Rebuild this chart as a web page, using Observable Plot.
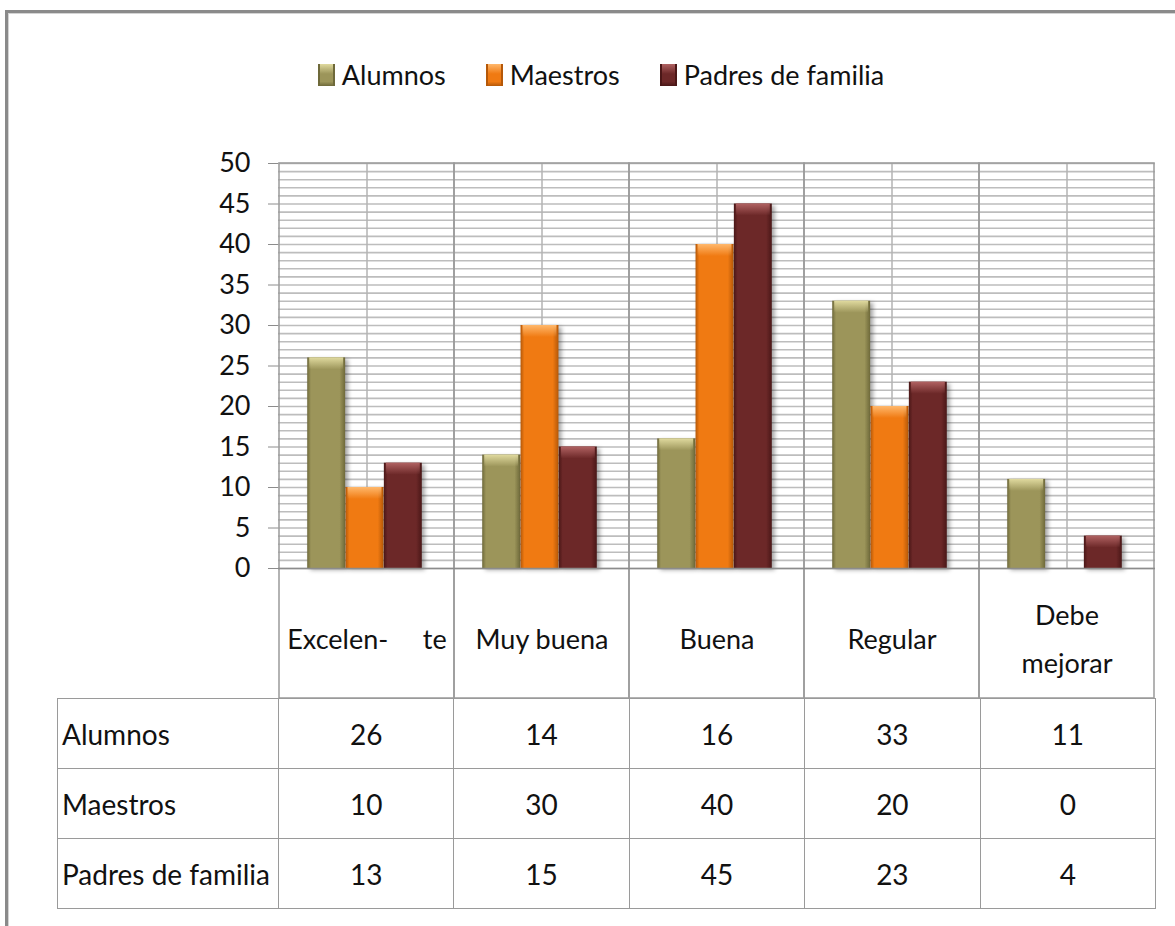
<!DOCTYPE html>
<html><head><meta charset="utf-8">
<script src="https://cdn.jsdelivr.net/npm/d3@7"></script>
<script src="https://cdn.jsdelivr.net/npm/@observablehq/plot@0.6"></script>
<style>
html,body{margin:0;padding:0;background:#fff;}
#page{position:relative;width:1175px;height:926px;overflow:hidden;font-family:Lato,"Open Sans",sans-serif;color:#111;}
#frame{position:absolute;left:5px;top:10px;width:1300px;height:1000px;border-left:3px solid #8a8a8a;border-top:3px solid #8a8a8a;box-shadow:inset 1px 1px 0 #d4d4d4;}
#legend{position:absolute;top:57px;left:0;width:1202px;display:flex;justify-content:center;gap:40px;font-size:27px;line-height:36px;}
.item{display:flex;align-items:center;gap:7px;}
.sw{width:17px;height:22px;box-sizing:border-box;}
#chart{position:absolute;left:0;top:150px;}
#chart g[fill^="url(#side"]{filter:drop-shadow(3px 2px 2px rgba(0,0,0,0.35));}
table{position:absolute;left:57px;top:698px;border-collapse:collapse;table-layout:fixed;width:1099px;font-size:28px;}
td{border:1.5px solid #9a9a9a;height:69px;padding:0;}
td.lab{text-align:left;padding-left:4px;}
td.num{text-align:center;}
</style></head>
<body><div id="page"><div id="frame"></div><div id="legend"></div><div id="chart"></div></div>
<script>
const categories = ["Excelente", "Muy buena", "Buena", "Regular", "Debe mejorar"];
const categoryLabels = ["Excelen-\u00a0\u00a0\u00a0\u00a0\u00a0te", "Muy buena", "Buena", "Regular", "Debe\nmejorar"];
const series = ["Alumnos", "Maestros", "Padres de familia"];
const alumnos = [26, 14, 16, 33, 11];
const maestros = [10, 30, 40, 20, 0];
const padres = [13, 15, 45, 23, 4];
const yTicks = [0, 5, 10, 15, 20, 25, 30, 35, 40, 45, 50];
const baseColors = ["#9c955a", "#f07a12", "#6c2828"];
const darkColors = ["#6e693a", "#b55808", "#4a1717"];
const lightColors = ["#e0da9f", "#ffb86c", "#b06262"];
const values = [alumnos, maestros, padres];

// gradient definitions
const defs = d3.select("body").append("svg").attr("width", 0).attr("height", 0)
  .style("position", "absolute").append("defs");
series.forEach((s, k) => {
  const g = defs.append("linearGradient").attr("id", "side" + k).attr("x1", 0).attr("x2", 1).attr("y1", 0).attr("y2", 0);
  [[0, darkColors[k]], [0.1, baseColors[k]], [0.85, baseColors[k]], [1, darkColors[k]]]
    .forEach(([o, c]) => g.append("stop").attr("offset", o).attr("stop-color", c));
  const b = defs.append("linearGradient").attr("id", "bevel" + k).attr("x1", 0).attr("x2", 0).attr("y1", 0).attr("y2", 1);
  b.append("stop").attr("offset", 0).attr("stop-color", lightColors[k]).attr("stop-opacity", 1);
  b.append("stop").attr("offset", 1).attr("stop-color", lightColors[k]).attr("stop-opacity", 0);
});

// legend
const legend = d3.select("#legend");
series.forEach((s, k) => {
  const it = legend.append("div").attr("class", "item");
  it.append("div").attr("class", "sw")
    .style("background", `linear-gradient(to bottom, ${lightColors[k]} 0%, ${baseColors[k]} 45%, ${baseColors[k]} 80%, ${darkColors[k]} 100%)`)
    .style("border-left", `2px solid ${darkColors[k]}`).style("border-right", `2px solid ${darkColors[k]}`);
  it.append("span").text(s);
});

const width = 1175, marginLeft = 278, marginRight = 20;
const bandW = (width - marginLeft - marginRight) / categories.length;
const barW = bandW * 0.2185;
const inset = (bandW - barW) / 2;
const pxPerUnit = (549 - 13 - 131) / 50;
const bevelUnits = 12 / pxPerUnit;

const barMarks = [];
values.forEach((vals, k) => {
  const rows = categories.map((c, i) => ({category: c, value: vals[i]}));
  barMarks.push(Plot.barY(rows, {x: "category", y: "value", fill: `url(#side${k})`,
    insetLeft: inset, insetRight: inset, dx: (k - 1) * barW - 2}));
  barMarks.push(Plot.barY(rows.filter(d => d.value > 0), {x: "category",
    y1: d => d.value, y2: d => d.value - bevelUnits, fill: `url(#bevel${k})`,
    insetLeft: inset + 2, insetRight: inset + 2, dx: (k - 1) * barW - 2}));
});

const chart = Plot.plot({
  width, height: 549, marginTop: 13, marginBottom: 131, marginLeft, marginRight,
  style: {fontFamily: "Lato, 'Open Sans', sans-serif", fontSize: "27px", color: "#111", background: "transparent", overflow: "visible"},
  x: {domain: categories, padding: 0, axis: null},
  y: {domain: [0, 50], axis: null},
  marks: [
    Plot.gridY({ticks: 50, stroke: "#bdbdbd", strokeOpacity: 1, strokeWidth: 1.6}),
    Plot.gridX({stroke: "#b3b3b3", strokeOpacity: 1, strokeWidth: 1.5}),
    ...barMarks,
    Plot.cell(categories, {x: d => d, fill: "none", stroke: "#9a9a9a", strokeWidth: 1.5, insetBottom: -130}),
    Plot.ruleY([0], {stroke: "#8c8c8c", strokeWidth: 1.5}),
    Plot.axisY({ticks: yTicks, tickSize: 10, tickPadding: 18, stroke: "#8c8c8c", fill: "#111", label: null, fontSize: 27}),
    Plot.axisX({tickSize: 0, tickPadding: 65, lineAnchor: "middle", lineHeight: 1.8,
      tickFormat: d => categoryLabels[categories.indexOf(d)], fill: "#111", label: null, fontSize: 27})
  ]
});
document.getElementById("chart").appendChild(chart);

// data table
const table = d3.select("#page").append("table");
const cg = table.append("colgroup");
cg.append("col").style("width", (marginLeft - 57) + "px");
categories.forEach(() => cg.append("col").style("width", bandW + "px"));
series.forEach((s, k) => {
  const tr = table.append("tr");
  tr.append("td").attr("class", "lab").text(s);
  values[k].forEach(v => tr.append("td").attr("class", "num").text(v));
});
</script></body></html>
